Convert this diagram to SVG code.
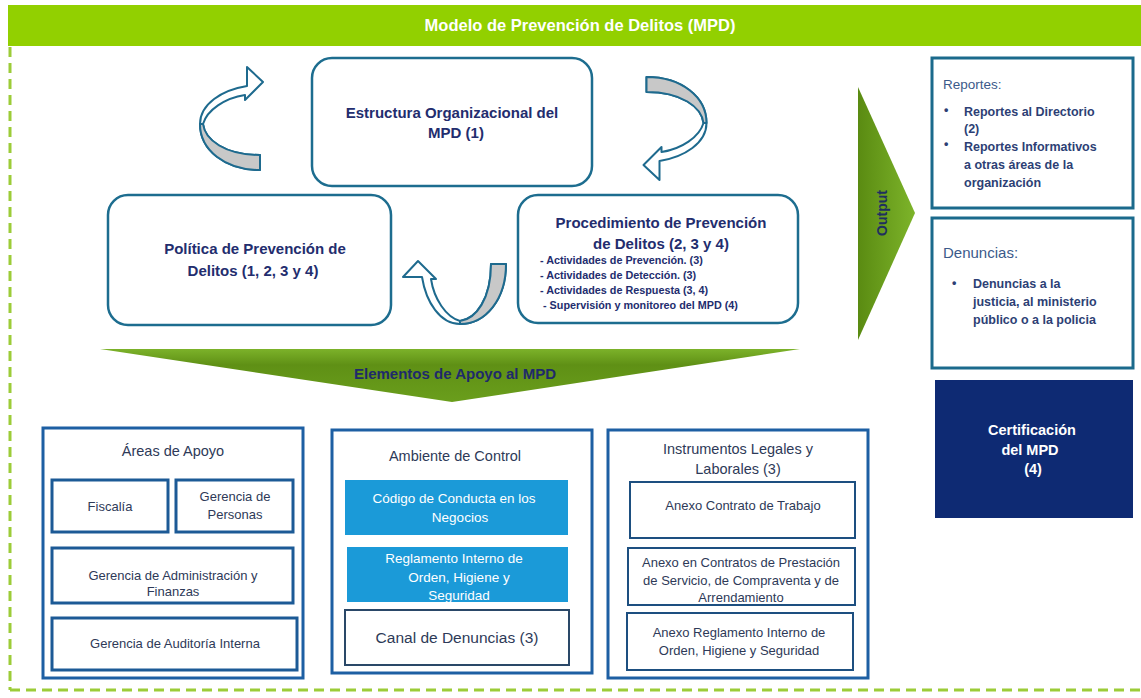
<svg xmlns="http://www.w3.org/2000/svg" width="1141" height="698" viewBox="0 0 1141 698">
<defs>
<style>
text{font-family:"Liberation Sans",Arial,sans-serif}
.tb{font-weight:bold;fill:#232d6e;text-anchor:middle;font-size:15px}
.bul{font-weight:bold;fill:#232d6e;font-size:10.8px}
.rbox{fill:#fff;stroke:#1b6a8c;stroke-width:3}
.top{fill:#fff;stroke:#1d6d8f;stroke-width:2.5}
.panel{fill:#fff;stroke:#1d5fa3;stroke-width:3}
.inA{fill:#fff;stroke:#1c5a96;stroke-width:3}
.inI{fill:#fff;stroke:#1d4f80;stroke-width:2}
.blue{fill:#1b9ad8}
.t{fill:#2e3a58;text-anchor:middle;font-size:13px}
.tw{fill:#fff;text-anchor:middle;font-size:13.5px}
.ph{fill:#2e3a58;text-anchor:middle;font-size:14.5px}
.rt{fill:#2d3f75;font-weight:bold;font-size:12.5px}
.ah{fill:#fff;stroke:#1e6a8e;stroke-width:2;stroke-linejoin:round}
.ag{fill:#c8c8c8;stroke:#1e6a8e;stroke-width:2;stroke-linejoin:round}
</style>
<linearGradient id="gOut" x1="0" y1="0" x2="1" y2="0">
<stop offset="0" stop-color="#5a8b12"/><stop offset="1" stop-color="#7db42a"/>
</linearGradient>
<linearGradient id="gDown" x1="0" y1="0" x2="0" y2="1">
<stop offset="0" stop-color="#7cb22a"/><stop offset="0.3" stop-color="#5f9015"/><stop offset="1" stop-color="#6a9e1c"/>
</linearGradient>
<g id="carrow">
<path class="ah" d="M260,170 C225,170 200,150 200,124 C200,104 222,90 247,86 L247,67 L263,82 L245,100 L245,95 C225,98 207,110 203,124 C205,140 225,155 260,155 Z"/>
<path class="ag" d="M260,170 C225,170 200,150 200,124 L203,124 C205,140 225,155 260,155 Z"/>
</g>
</defs>

<rect width="1141" height="698" fill="#fff"/>

<g id="banner">
<rect x="8" y="5" width="1133" height="41" fill="#92d000"/>
<text x="580" y="31" fill="#fff" font-weight="bold" font-size="16.5" text-anchor="middle">Modelo de Prevención de Delitos (MPD)</text>
</g>

<g id="frame" fill="none" stroke="#9ccc38" stroke-width="3" stroke-dasharray="10 6">
<line x1="10" y1="47" x2="10" y2="690"/>
<line x1="10" y1="690" x2="1141" y2="690"/>
</g>

<g id="connectors">
<use href="#carrow"/>
<use href="#carrow" transform="translate(906.5,247) rotate(180)"/>
<use href="#carrow" transform="translate(454.5,292.5) rotate(-90) translate(-231.5,-118.5)"/>
<g id="output-arrow">
<polygon points="858,87 915,213 858,340" fill="url(#gOut)"/>
<text transform="translate(887,213) rotate(-90)" text-anchor="middle" font-weight="bold" font-size="14" fill="#1f2f5f">Output</text>
</g>
<g id="apoyo-arrow">
<polygon points="100,349 800,349 452,402" fill="url(#gDown)"/>
<text x="455" y="379" text-anchor="middle" font-weight="bold" font-size="15" fill="#1f2a6b">Elementos de Apoyo al MPD</text>
</g>
</g>

<g id="estructura">
<rect class="top" x="312" y="58" width="280" height="128" rx="20"/>
<text class="tb" x="452" y="118">Estructura Organizacional del</text>
<text class="tb" x="456" y="138">MPD (1)</text>
</g>

<g id="politica">
<rect class="top" x="108" y="195" width="283" height="130" rx="20"/>
<text class="tb" x="255" y="254">Política de Prevención de</text>
<text class="tb" x="253" y="276">Delitos (1, 2, 3 y 4)</text>
</g>

<g id="procedimiento">
<rect class="top" x="518" y="195" width="280" height="128" rx="20"/>
<text class="tb" x="661" y="228" font-size="16">Procedimiento de Prevención</text>
<text class="tb" x="661" y="249" font-size="16">de Delitos (2, 3 y 4)</text>
<text class="bul" x="540" y="264">- Actividades de Prevención. (3)</text>
<text class="bul" x="540" y="279">- Actividades de Detección. (3)</text>
<text class="bul" x="540" y="294">- Actividades de Respuesta (3, 4)</text>
<text class="bul" x="543" y="309">- Supervisión y monitoreo del MPD (4)</text>
</g>

<g id="reportes">
<rect class="rbox" x="932" y="58" width="201" height="150"/>
<text x="943" y="89" font-size="13.5" fill="#3b5a8a">Reportes:</text>
<text class="rt" x="944" y="114">•</text>
<text class="rt" x="964" y="116">Reportes al Directorio</text>
<text class="rt" x="964" y="133">(2)</text>
<text class="rt" x="944" y="148">•</text>
<text class="rt" x="964" y="151">Reportes Informativos</text>
<text class="rt" x="964" y="169">a otras áreas de la</text>
<text class="rt" x="964" y="187">organización</text>
</g>

<g id="denuncias">
<rect class="rbox" x="932" y="218" width="201" height="150"/>
<text x="943" y="258" font-size="15" fill="#3b5a8a">Denuncias:</text>
<text class="rt" x="952" y="287">•</text>
<text class="rt" x="973" y="288">Denuncias a la</text>
<text class="rt" x="973" y="306">justicia, al ministerio</text>
<text class="rt" x="973" y="324">público o a la policia</text>
</g>

<g id="certificacion">
<rect x="935" y="380" width="198" height="138" fill="#0e2a73"/>
<text x="1032" y="435" fill="#fff" font-weight="bold" font-size="14.5" text-anchor="middle">Certificación</text>
<text x="1030" y="455" fill="#fff" font-weight="bold" font-size="14.5" text-anchor="middle">del MPD</text>
<text x="1033" y="474" fill="#fff" font-weight="bold" font-size="14.5" text-anchor="middle">(4)</text>
</g>

<g id="areas-apoyo">
<rect class="panel" x="43" y="428" width="260" height="250"/>
<text class="ph" x="173" y="456">Áreas de Apoyo</text>
<g id="fiscalia">
<rect class="inA" x="52" y="480" width="116" height="52"/>
<text class="t" x="110" y="511">Fiscalía</text>
</g>
<g id="personas">
<rect class="inA" x="176" y="480" width="117" height="52"/>
<text class="t" x="235" y="501">Gerencia de</text>
<text class="t" x="235" y="519">Personas</text>
</g>
<g id="administracion">
<rect class="inA" x="52" y="548" width="241" height="55"/>
<text class="t" x="173" y="580">Gerencia de Administración  y</text>
<text class="t" x="173" y="596">Finanzas</text>
</g>
<g id="auditoria">
<rect class="inA" x="52" y="618" width="245" height="52"/>
<text class="t" x="175" y="648">Gerencia de Auditoría Interna</text>
</g>
</g>

<g id="ambiente-control">
<rect class="panel" x="332" y="430" width="260" height="243"/>
<text class="ph" x="455" y="461">Ambiente de Control</text>
<g id="codigo">
<rect class="blue" x="345" y="480" width="223" height="55"/>
<text class="tw" x="454" y="503">Código de Conducta en los</text>
<text class="tw" x="460" y="522">Negocios</text>
</g>
<g id="reglamento">
<rect class="blue" x="347" y="547" width="221" height="55"/>
<text class="tw" x="454" y="563">Reglamento Interno de</text>
<text class="tw" x="459" y="582">Orden, Higiene y</text>
<text class="tw" x="459" y="600">Seguridad</text>
</g>
<g id="canal">
<rect x="345" y="610" width="224" height="55" fill="#fff" stroke="#2a4868" stroke-width="2"/>
<text x="457" y="643" fill="#2e3a58" font-size="15.5" text-anchor="middle">Canal de Denuncias (3)</text>
</g>
</g>

<g id="instrumentos">
<rect class="panel" x="608" y="430" width="260" height="248"/>
<text class="ph" x="738" y="454">Instrumentos Legales y</text>
<text class="ph" x="738" y="474">Laborales (3)</text>
<g id="anexo-trabajo">
<rect class="inI" x="630" y="482" width="225" height="56"/>
<text class="t" x="743" y="510">Anexo Contrato de Trabajo</text>
</g>
<g id="anexo-prestacion">
<rect class="inI" x="628" y="548" width="227" height="57"/>
<text class="t" x="741" y="567">Anexo en Contratos de Prestación</text>
<text class="t" x="741" y="585">de Servicio, de Compraventa y de</text>
<text class="t" x="741" y="602">Arrendamiento</text>
</g>
<g id="anexo-reglamento">
<rect class="inI" x="627" y="613" width="226" height="57"/>
<text class="t" x="739" y="637">Anexo Reglamento Interno de</text>
<text class="t" x="739" y="655">Orden, Higiene y Seguridad</text>
</g>
</g>
</svg>
